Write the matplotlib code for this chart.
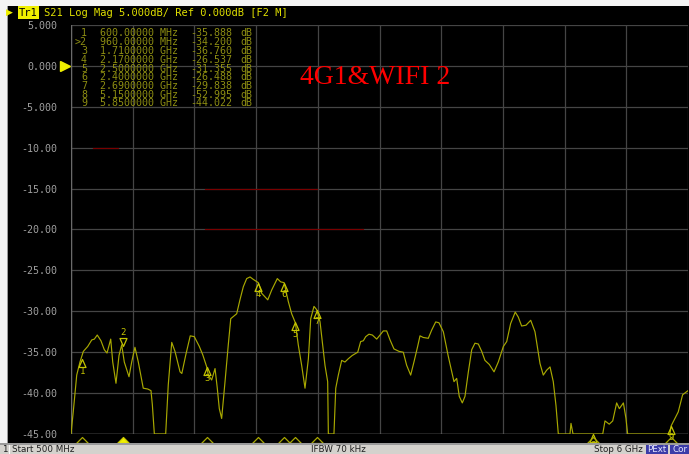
import matplotlib
matplotlib.use("Agg")
import matplotlib.pyplot as plt
from matplotlib.patches import Rectangle
from matplotlib.path import Path
from matplotlib.transforms import blended_transform_factory
import numpy as np

# ---------------- data ----------------
freq_mhz = [500, 520, 551, 580, 610, 649, 685, 708, 734, 767, 797, 821, 854, 872, 901, 928, 952, 975,
            1017, 1041, 1070, 1100, 1144, 1184, 1213, 1225, 1243, 1344, 1367, 1398, 1427, 1472, 1488,
            1522, 1563, 1599, 1644, 1674, 1710, 1724, 1754, 1784, 1804, 1822, 1843, 1873, 1902, 1924,
            1977, 2006, 2036, 2066, 2096, 2125, 2170, 2200, 2254, 2289, 2339, 2369, 2400, 2437, 2467,
            2500, 2526, 2556, 2586, 2616, 2637, 2666, 2690, 2720, 2740, 2764, 2788, 2794, 2844, 2860,
            2883, 2913, 2942, 2972, 3007, 3056, 3082, 3106, 3127, 3156, 3186, 3225, 3254, 3284, 3314,
            3344, 3379, 3424, 3462, 3492, 3528, 3557, 3590, 3611, 3640, 3685, 3715, 3751, 3780, 3819,
            3834, 3863, 3894, 3914, 3938, 3961, 3988, 4012, 4042, 4072, 4101, 4131, 4161, 4190, 4229,
            4271, 4309, 4354, 4384, 4419, 4460, 4487, 4517, 4556, 4598, 4636, 4681, 4710, 4740, 4770,
            4799, 4823, 4844, 4948, 4957, 4975, 5240, 5260, 5298, 5329, 5364, 5388, 5424, 5447, 5462,
            5839, 5850, 5913, 5952, 6000]
s21_db = [-45.0, -42.3, -37.8, -36.2, -34.9, -34.3, -33.5, -33.4, -32.9, -33.6, -34.7, -35.1, -33.4,
          -36.2, -38.8, -35.4, -34.1, -36.2, -38.0, -36.2, -34.4, -36.2, -39.4, -39.5, -39.7, -41.4,
          -45.0, -45.0, -39.0, -33.8, -34.9, -37.4, -37.6, -35.4, -33.0, -33.1, -34.3, -35.3, -36.8,
          -37.8, -38.4, -37.0, -39.4, -41.9, -43.1, -38.6, -34.1, -30.9, -30.3, -28.6, -27.0, -26.0,
          -25.8, -26.1, -26.5, -27.8, -28.6, -27.4, -26.0, -26.4, -26.5, -28.8, -30.3, -31.4, -34.1,
          -36.6, -39.4, -35.8, -30.9, -29.4, -29.8, -31.3, -33.7, -36.6, -38.6, -45.0, -45.0, -39.4,
          -37.8, -36.0, -36.2, -35.8, -35.4, -35.0, -33.7, -33.6, -33.1, -32.8, -32.9, -33.4, -32.9,
          -32.4, -32.4, -33.5, -34.6, -34.9, -35.0, -36.6, -37.8, -36.2, -34.3, -33.0, -33.2, -33.3,
          -32.3, -31.3, -31.4, -32.5, -33.5, -35.5, -37.4, -38.6, -38.2, -40.4, -41.2, -40.4, -37.4,
          -34.7, -33.9, -34.0, -34.9, -36.0, -36.5, -37.4, -36.2, -34.3, -33.7, -31.5, -30.1, -30.7,
          -31.8, -31.7, -31.1, -32.5, -36.4, -37.8, -37.2, -36.8, -38.6, -41.5, -45.0, -45.0, -43.7,
          -45.0, -45.0, -43.4, -43.8, -43.4, -41.2, -41.9, -41.2, -43.1, -45.0, -45.0, -44.0, -42.3,
          -40.2, -39.7]

marker_ids = ["1", "2", "3", "4", "5", "6", "7", "8", "9"]
marker_freq_mhz = [600, 960, 1710, 2170, 2500, 2400, 2690, 5150, 5850]
marker_db = [-35.888, -34.200, -36.760, -26.537, -31.355, -26.488, -29.838, -52.995, -44.022]
marker_freq_text = ["600.00000 MHz", "960.00000 MHz", "1.7100000 GHz", "2.1700000 GHz",
                    "2.5000000 GHz", "2.4000000 GHz", "2.6900000 GHz", "5.1500000 GHz",
                    "5.8500000 GHz"]
active_marker = "2"

y_ticks = [5, 0, -5, -10, -15, -20, -25, -30, -35, -40, -45]
y_tick_labels = ["5.000", "0.000", "-5.000", "-10.00", "-15.00", "-20.00", "-25.00",
                 "-30.00", "-35.00", "-40.00", "-45.00"]
x_grid_mhz = [500, 1050, 1600, 2150, 2700, 3250, 3800, 4350, 4900, 5450, 6000]

limit_lines = [(-10, 696, 919), (-15, 1694, 2693), (-20, 1694, 3100)]

title_text = "S21 Log Mag 5.000dB/ Ref 0.000dB [F2 M]"
annotation_text = "4G1&WIFI 2"

# ---------------- styling ----------------
W, H = 689, 454
TRACE = "#a8a800"
MK = "#c4c400"
TXT = "#8e8e12"
GRID = "#454545"
MONO = "DejaVu Sans Mono"

fig = plt.figure(figsize=(W / 100, H / 100), dpi=100, facecolor="black")

def fx(px):
    return px / W

def fy(py):
    return 1 - py / H

ax_l, ax_r, ax_t, ax_b = 71, 688, 25, 434
ax = fig.add_axes([fx(ax_l), fy(ax_b), (ax_r - ax_l) / W, (ax_b - ax_t) / H])
ax.set_facecolor("black")
ax.set_xlim(500, 6000)
ax.set_ylim(-45, 5)

for gx in x_grid_mhz:
    ax.axvline(gx, color=GRID, lw=0.9, zorder=1)
for gy in y_ticks:
    ax.axhline(gy, color=GRID, lw=0.9, zorder=1)
ax.axhline(-45, color="#8a8a8a", lw=1.0, zorder=2)

for sp in ax.spines.values():
    sp.set_visible(False)
ax.axvline(500, color="#6a6a6a", lw=1.0, zorder=2)

ax.set_xticks([])
ax.set_yticks(y_ticks)
ax.set_yticklabels(y_tick_labels, family=MONO, fontsize=7.2, color="#a0a0a0")
ax.tick_params(axis="y", length=0, pad=10)

# limit lines
for ly, x0, x1 in limit_lines:
    ax.plot([x0, x1], [ly, ly], color="#7a0000", lw=0.8, zorder=2)

# trace
ax.plot(freq_mhz, np.clip(s21_db, -45, 5), color=TRACE, lw=0.85, zorder=4)

# trace markers
up_tri = Path([(0, 0), (-3.5, -8), (3.5, -8), (0, 0)], [1, 2, 2, 79])
down_tri = Path([(0, 0), (-3.5, 8), (3.5, 8), (0, 0)], [1, 2, 2, 79])
for mid, mf, mv in zip(marker_ids, marker_freq_mhz, marker_db):
    yv = max(mv, -45)
    if mid == active_marker:
        ax.plot([mf], [yv], marker=down_tri, ms=11.5, mfc="none", mec=MK, mew=0.9,
                zorder=6, clip_on=False)
        ax.annotate(mid, (mf, yv), xytext=(0, 13), textcoords="offset pixels",
                    ha="center", va="center", color=MK, fontsize=6.5, family=MONO,
                    annotation_clip=False, zorder=6)
    else:
        ax.plot([mf], [yv], marker=up_tri, ms=11.5, mfc="none", mec=MK, mew=0.9,
                zorder=6, clip_on=False)
        ax.annotate(mid, (mf, yv), xytext=(0, -12), textcoords="offset pixels",
                    ha="center", va="center", color=MK, fontsize=6.5, family=MONO,
                    annotation_clip=False, zorder=6)

# bottom marker indicators
btr = blended_transform_factory(ax.transData, ax.transAxes)
ind_tri = Path([(0, 0), (-6, -6), (6, -6), (0, 0)], [1, 2, 2, 79])
for mid, mf in zip(marker_ids, marker_freq_mhz):
    filled = mid == active_marker
    ax.plot([mf], [-2.5 / 409], transform=btr, marker=ind_tri, ms=8.6,
            mfc="#f0f000" if filled else "none", mec="#c8c800" if filled else "#a8a800",
            mew=0.9, clip_on=False, zorder=6)

# reference level arrow
rtr = blended_transform_factory(ax.transAxes, ax.transData)
ax.plot([-6.5 / 617], [0], transform=rtr, marker=">", ms=7, color="#f0f000",
        clip_on=False, zorder=6)

# marker table
row_y0, row_dy = 33.5, 8.75
for i, (mid, ftxt, mv) in enumerate(zip(marker_ids, marker_freq_text, marker_db)):
    yy = fy(row_y0 + i * row_dy)
    lab = (">" + mid) if mid == active_marker else mid
    fig.text(fx(87), yy, lab, ha="right", va="center", family=MONO, fontsize=7.2, color=TXT)
    fig.text(fx(100), yy, ftxt, ha="left", va="center", family=MONO, fontsize=7.2, color=TXT)
    fig.text(fx(232), yy, f"{mv:.3f}", ha="right", va="center", family=MONO, fontsize=7.2,
             color=TXT)
    fig.text(fx(240), yy, "dB", ha="left", va="center", family=MONO, fontsize=7.2, color=TXT)

# red annotation
fig.text(fx(300), fy(78), annotation_text, ha="left", va="center",
         family=["Liberation Serif", "DejaVu Serif"], fontsize=20, color="#ff0000")

# frame: white top and left strips
fig.patches.append(Rectangle((0, fy(6)), 1, 6 / H, transform=fig.transFigure,
                             facecolor="#f4f4f4", edgecolor="none", zorder=0))
fig.patches.append(Rectangle((0, 0), 7 / W, 1, transform=fig.transFigure,
                             facecolor="#f4f4f4", edgecolor="none", zorder=0))
fig.patches.append(Rectangle((7 / W, 0), 1.2 / W, fy(6), transform=fig.transFigure,
                             facecolor="#9a9a9a", edgecolor="none", zorder=0))

# title bar
fig.text(fx(6), fy(12.5), "\u25B6", ha="left", va="center", fontsize=6.5, color="#f0f000",
         family="DejaVu Sans")
fig.text(fx(19), fy(12.5), "Tr1", ha="left", va="center", family=MONO, fontsize=7.5,
         color="black", bbox=dict(boxstyle="square,pad=0.12", fc="#f0f000", ec="none"))
fig.text(fx(44), fy(12.5), title_text, ha="left", va="center", family=MONO, fontsize=7.5,
         color="#e0e000")

# status bar
fig.patches.append(Rectangle((0, 0), 1, 9.5 / H, transform=fig.transFigure,
                             facecolor="#d4d2cd", edgecolor="none", zorder=0))
fig.patches.append(Rectangle((0, 9.5 / H), 1, 1.2 / H, transform=fig.transFigure,
                             facecolor="#9a9a9a", edgecolor="none", zorder=0))
fig.patches.append(Rectangle((9 / W, 0), 1 / W, 9.5 / H, transform=fig.transFigure,
                             facecolor="#f8f8f8", edgecolor="none", zorder=0))
sb_y = fy(450)
fig.text(fx(2), sb_y, "1", ha="left", va="center", fontsize=6.3, color="#202020")
fig.text(fx(12), sb_y, "Start 500 MHz", ha="left", va="center", fontsize=6.3, color="#202020")
fig.text(fx(311), sb_y, "IFBW 70 kHz", ha="left", va="center", fontsize=6.3, color="#202020")
fig.text(fx(594), sb_y, "Stop 6 GHz", ha="left", va="center", fontsize=6.3, color="#202020")
fig.patches.append(Rectangle((fx(646), 0), 22 / W, 9.5 / H, transform=fig.transFigure,
                             facecolor="#3c3ca8", edgecolor="none", zorder=0))
fig.patches.append(Rectangle((fx(670), 0), 19 / W, 9.5 / H, transform=fig.transFigure,
                             facecolor="#3c3ca8", edgecolor="none", zorder=0))
fig.text(fx(657), sb_y, "PExt", ha="center", va="center", fontsize=6.3, color="#e8e8ff")
fig.text(fx(680), sb_y, "Cor", ha="center", va="center", fontsize=6.3, color="#e8e8ff")

fig.savefig("out.png", dpi=100, facecolor="black")
